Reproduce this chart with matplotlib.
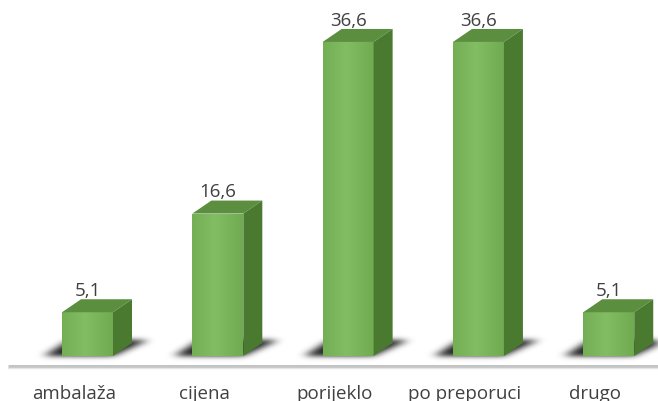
import numpy as np
import matplotlib.pyplot as plt
from matplotlib.patches import Polygon
from matplotlib.path import Path

categories = ["ambalaža", "cijena", "porijeklo", "po preporuci", "drugo"]
values = [5.1, 16.6, 36.6, 36.6, 5.1]
labels = ["5,1", "16,6", "36,6", "36,6", "5,1"]

plt.rcParams['font.family'] = ['Open Sans', 'DejaVu Sans']

fig = plt.figure(figsize=(6.58, 4.01), dpi=100)
ax = fig.add_axes([0, 0, 1, 1])
x0lim, x1lim = -0.6715, 4.378
y0lim, y1lim = -5.245, 41.49
ax.set_xlim(x0lim, x1lim)
ax.set_ylim(y0lim, y1lim)
ax.axis('off')

width = 0.391
dx = 0.146   # depth of the 3d box, to the right
dy = 1.515   # depth of the 3d box, upwards

front_col = "#76b254"
top_col = "#5c8e40"
side_col = "#4a7a30"
text_col = "#404040"

# floor line
ax.plot([-0.61, 4.38], [-1.2, -1.2], color="#c4c4c4", lw=2.2, zorder=1, solid_capstyle='butt')
ax.plot([-0.61, 4.38], [-1.45, -1.45], color="#e6e6e6", lw=1, zorder=1)

x = np.arange(len(values))

# blurred floor shadows, one skewed quad under each box
nx, ny = 658, 52
gx = np.linspace(x0lim, x1lim, nx)
gy = np.linspace(-2.0, 4.0, ny)
GX, GY = np.meshgrid(gx, gy)
pts = np.column_stack([GX.ravel(), GY.ravel()])
mask = np.zeros(GX.shape)
for xi in x:
    l, r = xi - width / 2, xi + width / 2
    quad = Path([(l - 0.14, -0.05), (r + 0.0, -0.05), (r + dx + 0.12, 1.8), (l + 0.05, 1.8)])
    mask = np.maximum(mask, quad.contains_points(pts).reshape(GX.shape).astype(float))
kx = np.exp(-0.5 * (np.arange(-15, 16) / 5.0) ** 2)
kx /= kx.sum()
ky = np.exp(-0.5 * (np.arange(-8, 9) / 2.5) ** 2)
ky /= ky.sum()
blur = np.apply_along_axis(lambda row: np.convolve(row, kx, mode='same'), 1, mask)
blur = np.apply_along_axis(lambda col: np.convolve(col, ky, mode='same'), 0, blur)
shadow = np.zeros((ny, nx, 4))
shadow[..., 3] = np.clip(blur * 0.9, 0, 0.8)
ax.imshow(shadow, extent=[x0lim, x1lim, -2.0, 4.0], origin='lower', aspect='auto',
          zorder=2, interpolation='bilinear')

bars = ax.bar(x, values, width, color=front_col, zorder=4)

# horizontal gradient on the front faces
grad = np.linspace(0, 1, 100)
grad = 1 - 0.5 * np.abs(grad - 0.45) / 0.55
grad = grad[None, :]
cmap = plt.matplotlib.colors.LinearSegmentedColormap.from_list("g", ["#5f9a3f", "#82bc63"])
for b in bars:
    bx, by = b.get_x(), b.get_y()
    im = ax.imshow(grad, cmap=cmap, vmin=0, vmax=1, aspect='auto',
                   extent=[bx, bx + b.get_width(), by, by + b.get_height()],
                   zorder=5, interpolation='bilinear')
    im.set_clip_path(b)

for xi, v, lab in zip(x, values, labels):
    l, r = xi - width / 2, xi + width / 2
    top = Polygon([(l, v), (r, v), (r + dx, v + dy), (l + dx, v + dy)],
                  closed=True, color=top_col, lw=0, zorder=6)
    side = Polygon([(r, 0), (r + dx, dy), (r + dx, v + dy), (r, v)],
                   closed=True, color=side_col, lw=0, zorder=6)
    ax.add_patch(top)
    ax.add_patch(side)
    ax.text(xi, v + dy - 0.1, lab, ha='center', va='bottom', fontsize=13.5, color=text_col, zorder=7)

# category names sit a little left of the box centres
for xi, c in zip(x, categories):
    ax.text(xi - 0.104, -5.05, c, ha='center', va='baseline', fontsize=13.5, color=text_col)

ax.set_xlim(x0lim, x1lim)
ax.set_ylim(y0lim, y1lim)

fig.savefig("out.png", dpi=100)
